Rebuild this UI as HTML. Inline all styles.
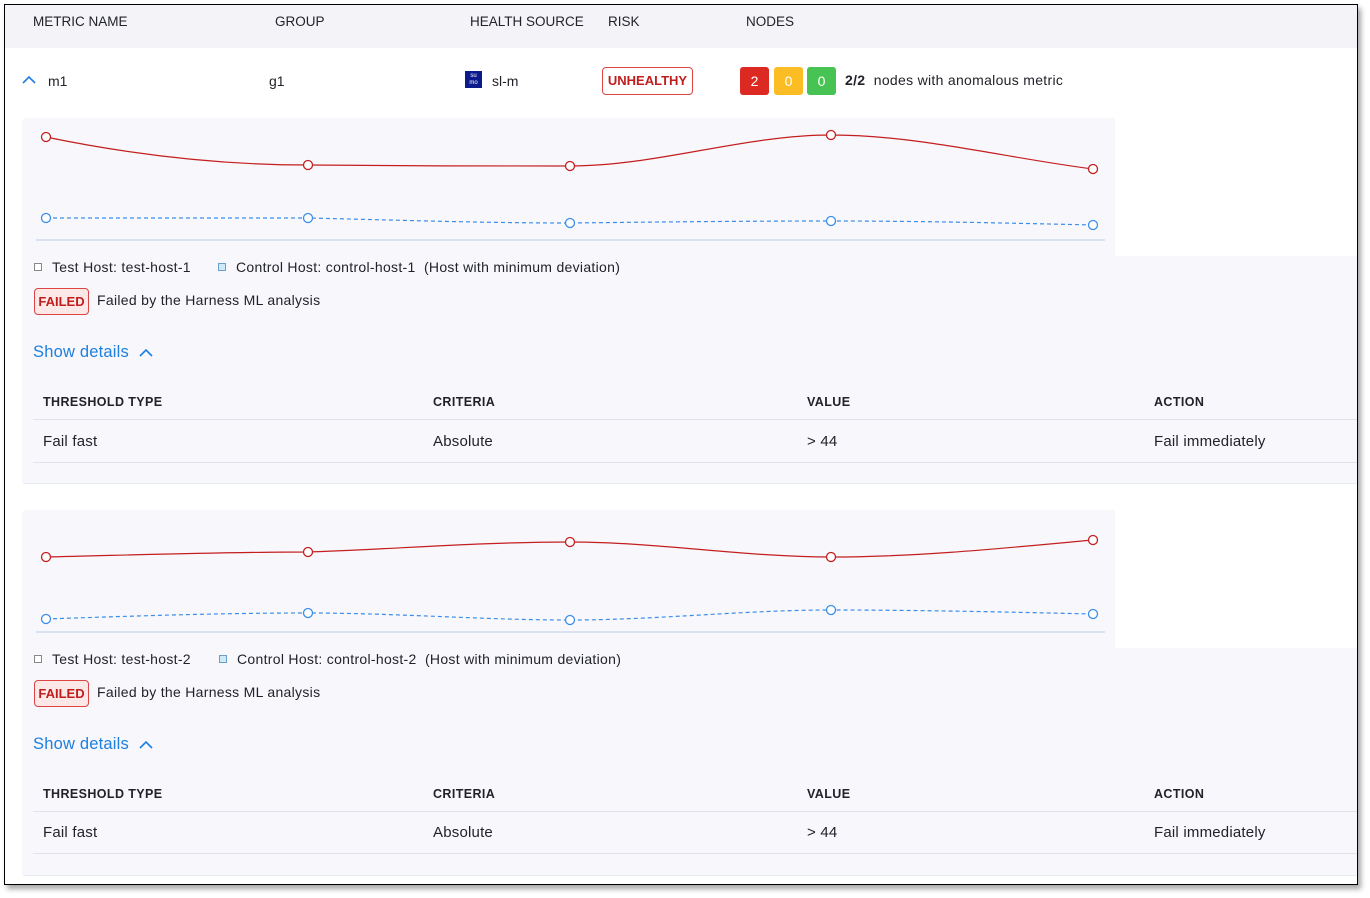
<!DOCTYPE html>
<html><head><meta charset="utf-8"><style>
*{margin:0;padding:0;box-sizing:border-box}
body{width:1370px;height:898px;background:#fff;font-family:"Liberation Sans",sans-serif;position:relative;overflow:hidden;color:#22222a}
.a{position:absolute;white-space:nowrap}
#frame{position:absolute;left:4px;top:4px;width:1354px;height:881px;border:1px solid #000;box-shadow:3px 4px 5px rgba(0,0,0,.35);overflow:hidden;background:#fff}
.hdr{font-size:13.5px;color:#22222a}
.panel{position:absolute;left:17px;width:1340px;height:366px;background:#f7f7fc;border-radius:4px;border-bottom:1px solid #e4ecf2}
.badge{border:1px solid #d44;border-radius:4px;color:#c21d1d;font-weight:bold;font-size:13px;text-align:center}
.th{font-size:12.5px;font-weight:bold;letter-spacing:.4px}
.td{font-size:15px;letter-spacing:.2px}
.lg{font-size:14px;letter-spacing:.3px}
.sd{font-size:16.5px;color:#1d7fe0;letter-spacing:.2px}
</style></head><body>
<div id="frame">
<div class="a" style="left:0;top:0;width:1354px;height:43px;background:#f3f3f8"></div>
<div class="a hdr" style="left:28px;top:9px">METRIC NAME</div>
<div class="a hdr" style="left:270px;top:9px">GROUP</div>
<div class="a hdr" style="left:465px;top:9px">HEALTH SOURCE</div>
<div class="a hdr" style="left:603px;top:9px">RISK</div>
<div class="a hdr" style="left:741px;top:9px">NODES</div>

<svg class="a" style="left:17px;top:70px" width="14" height="10"><path d="M1 8 L7 2 L13 8" fill="none" stroke="#1d7fe0" stroke-width="1.6"/></svg>
<div class="a" style="left:43px;top:68px;font-size:14px">m1</div>
<div class="a" style="left:264px;top:68px;font-size:14px">g1</div>
<div class="a" style="left:460px;top:66px;width:17px;height:17px;background:#0b1a8c;color:#fff;font-size:6px;line-height:7px;text-align:center;padding-top:2px">su<br>mo</div>
<div class="a" style="left:487px;top:68px;font-size:14px">sl-m</div>
<div class="a badge" style="left:597px;top:62px;width:91px;height:28px;line-height:26px">UNHEALTHY</div>
<div class="a" style="left:735px;top:62px;width:29px;height:28px;background:#dc2a23;border-radius:3px;color:#fff;text-align:center;line-height:28px;font-size:14px">2</div>
<div class="a" style="left:769px;top:62px;width:29px;height:28px;background:#fcbd24;border-radius:3px;color:#fff;text-align:center;line-height:28px;font-size:14px">0</div>
<div class="a" style="left:802px;top:62px;width:29px;height:28px;background:#46c352;border-radius:3px;color:#fff;text-align:center;line-height:28px;font-size:14px">0</div>
<div class="a" style="left:840px;top:67px;font-size:14px;letter-spacing:.3px"><b>2/2</b>&nbsp; nodes with anomalous metric</div>

<!-- panel 1 -->
<div class="panel" style="top:113px"></div>
<div class="a" style="left:1110px;top:113px;width:244px;height:138px;background:#fff"></div>
<svg class="a" style="left:-5px;top:-5px" width="1370" height="898">
<line x1="36" y1="240" x2="1105" y2="240" stroke="#c9d6ec" stroke-width="1.2"/>
<path d="M46 137 C133 155,221 165,308 165 C395 166,483 166,570 166 C657 166,744 135,831 135 C918 135,1006 158,1093 169" fill="none" stroke="#c41e1e" stroke-width="1.2"/>
<path d="M46 218 L308 218 C395 220,483 223,570 223 C657 222,744 221,831 221 C918 221,1006 223,1093 225" fill="none" stroke="#3b8ee8" stroke-width="1.2" stroke-dasharray="4 3"/>
<g fill="#fff" stroke="#c41e1e" stroke-width="1.3"><circle cx="46" cy="137" r="4.5"/><circle cx="308" cy="165" r="4.5"/><circle cx="570" cy="166" r="4.5"/><circle cx="831" cy="135" r="4.5"/><circle cx="1093" cy="169" r="4.5"/></g>
<g fill="#fff" stroke="#3b8ee8" stroke-width="1.3"><circle cx="46" cy="218" r="4.5"/><circle cx="308" cy="218" r="4.5"/><circle cx="570" cy="223" r="4.5"/><circle cx="831" cy="221" r="4.5"/><circle cx="1093" cy="225" r="4.5"/></g>
</svg>
<div class="a" style="left:29px;top:258px;width:8px;height:8px;border:1px solid #888;background:#fff"></div>
<div class="a lg" style="left:47px;top:254px">Test Host: test-host-1</div>
<div class="a" style="left:213px;top:258px;width:8px;height:8px;border:1px solid #6a9fc8;background:#cdeaf6"></div>
<div class="a lg" style="left:231px;top:254px">Control Host: control-host-1&nbsp;&nbsp;(Host with minimum deviation)</div>
<div class="a badge" style="left:29px;top:283px;width:55px;height:27px;line-height:25px;background:#fde8e8">FAILED</div>
<div class="a lg" style="left:92px;top:287px">Failed by the Harness ML analysis</div>
<div class="a sd" style="left:28px;top:338px">Show details</div>
<svg class="a" style="left:134px;top:343px" width="14" height="10"><path d="M1 8 L7 2 L13 8" fill="none" stroke="#1d7fe0" stroke-width="1.6"/></svg>
<div class="a th" style="left:38px;top:390px">THRESHOLD TYPE</div>
<div class="a th" style="left:428px;top:390px">CRITERIA</div>
<div class="a th" style="left:802px;top:390px">VALUE</div>
<div class="a th" style="left:1149px;top:390px">ACTION</div>
<div class="a" style="left:28px;top:414px;width:1326px;height:1px;background:#e2e2ec"></div>
<div class="a td" style="left:38px;top:428px">Fail fast</div>
<div class="a td" style="left:428px;top:428px">Absolute</div>
<div class="a td" style="left:802px;top:428px">&gt; 44</div>
<div class="a td" style="left:1149px;top:428px">Fail immediately</div>
<div class="a" style="left:28px;top:457px;width:1326px;height:1px;background:#e2e2ec"></div>

<!-- panel 2 -->
<div class="panel" style="top:505px"></div>
<div class="a" style="left:1110px;top:505px;width:244px;height:138px;background:#fff"></div>
<svg class="a" style="left:-5px;top:-5px" width="1370" height="898">
<line x1="36" y1="632" x2="1105" y2="632" stroke="#c9d6ec" stroke-width="1.2"/>
<path d="M46 557 C133 555,221 552,308 552 C395 549,483 542,570 542 C657 542,744 557,831 557 C918 557,1006 548,1093 540" fill="none" stroke="#c41e1e" stroke-width="1.2"/>
<path d="M46 619 C133 616,221 613,308 613 C395 613,483 620,570 620 C657 620,744 610,831 610 C918 610,1006 612,1093 614" fill="none" stroke="#3b8ee8" stroke-width="1.2" stroke-dasharray="4 3"/>
<g fill="#fff" stroke="#c41e1e" stroke-width="1.3"><circle cx="46" cy="557" r="4.5"/><circle cx="308" cy="552" r="4.5"/><circle cx="570" cy="542" r="4.5"/><circle cx="831" cy="557" r="4.5"/><circle cx="1093" cy="540" r="4.5"/></g>
<g fill="#fff" stroke="#3b8ee8" stroke-width="1.3"><circle cx="46" cy="619" r="4.5"/><circle cx="308" cy="613" r="4.5"/><circle cx="570" cy="620" r="4.5"/><circle cx="831" cy="610" r="4.5"/><circle cx="1093" cy="614" r="4.5"/></g>
</svg>
<div class="a" style="left:29px;top:650px;width:8px;height:8px;border:1px solid #888;background:#fff"></div>
<div class="a lg" style="left:47px;top:646px">Test Host: test-host-2</div>
<div class="a" style="left:214px;top:650px;width:8px;height:8px;border:1px solid #6a9fc8;background:#cdeaf6"></div>
<div class="a lg" style="left:232px;top:646px">Control Host: control-host-2&nbsp;&nbsp;(Host with minimum deviation)</div>
<div class="a badge" style="left:29px;top:675px;width:55px;height:27px;line-height:25px;background:#fde8e8">FAILED</div>
<div class="a lg" style="left:92px;top:679px">Failed by the Harness ML analysis</div>
<div class="a sd" style="left:28px;top:730px">Show details</div>
<svg class="a" style="left:134px;top:735px" width="14" height="10"><path d="M1 8 L7 2 L13 8" fill="none" stroke="#1d7fe0" stroke-width="1.6"/></svg>
<div class="a th" style="left:38px;top:782px">THRESHOLD TYPE</div>
<div class="a th" style="left:428px;top:782px">CRITERIA</div>
<div class="a th" style="left:802px;top:782px">VALUE</div>
<div class="a th" style="left:1149px;top:782px">ACTION</div>
<div class="a" style="left:28px;top:806px;width:1326px;height:1px;background:#e2e2ec"></div>
<div class="a td" style="left:38px;top:819px">Fail fast</div>
<div class="a td" style="left:428px;top:819px">Absolute</div>
<div class="a td" style="left:802px;top:819px">&gt; 44</div>
<div class="a td" style="left:1149px;top:819px">Fail immediately</div>
<div class="a" style="left:28px;top:848px;width:1326px;height:1px;background:#e2e2ec"></div>
</div>
</body></html>
